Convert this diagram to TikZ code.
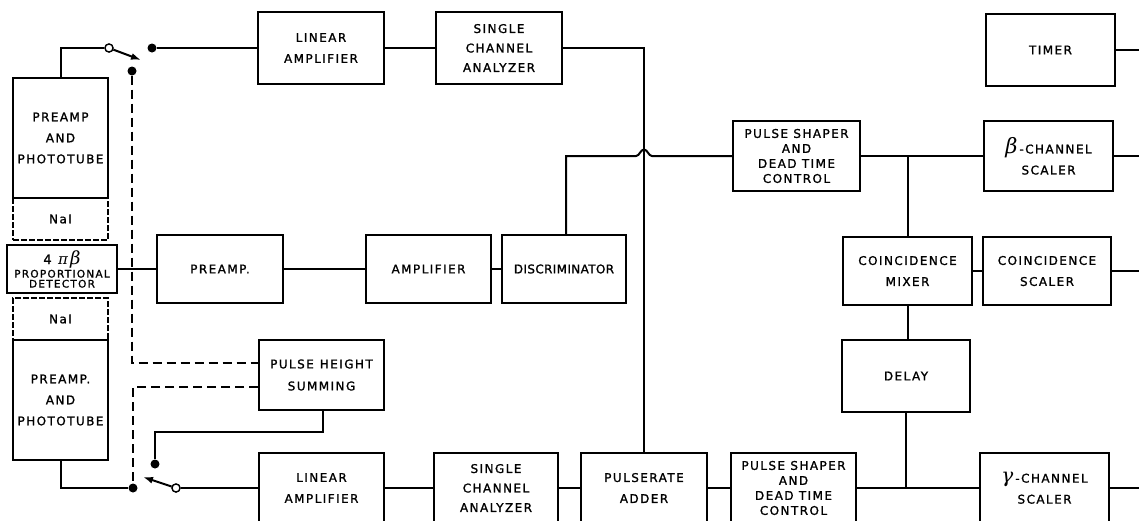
\documentclass[tikz,border=0pt]{standalone}
\usepackage{fontspec}
\newfontfamily\lbl{DejaVu Sans}[LetterSpace=12, FakeBold=1.2]
\newfontfamily\lbltight{DejaVu Sans}[LetterSpace=3, FakeBold=1.2]
\newfontfamily\grk{DejaVu Serif}
\usetikzlibrary{arrows.meta}
\tikzset{
  blk/.style={draw, line width=2pt, inner sep=0pt, align=center,
    font=\lbl\fontsize{12}{21}\selectfont},
  wire/.style={line width=2pt},
  dashwire/.style={line width=1.8pt, dash pattern=on 9pt off 5pt},
  naibox/.style={draw, line width=1.6pt, dash pattern=on 6pt off 2pt, inner sep=0pt,
    font=\lbl\fontsize{12}{21}\selectfont},
  fdot/.style={circle, fill, inner sep=0pt, minimum size=9pt},
  odot/.style={circle, draw, fill=white, line width=1.3pt, inner sep=0pt, minimum size=8pt},
  blade/.style={line width=2pt, -{Latex[length=10pt,width=7pt]}},
}
\newcommand\bigbeta{{\fontsize{21}{21}\grk\itshape β}}
\newcommand\detbeta{{\fontsize{18}{18}\grk\itshape β}}
\newcommand\biggamma{{\fontsize{20}{20}\grk\itshape γ}}
\begin{document}
\begin{tikzpicture}[x=1pt,y=-1pt]
\useasboundingbox (0,0) rectangle (1139,520);
\clip (0,0) rectangle (1139,520);
\fill[white] (0,0) rectangle (1139,520);

% left column
\node[naibox, minimum width=95pt, minimum height=42pt] (nai1) at (60.5,219) {NaI};
\node[naibox, minimum width=95pt, minimum height=42pt] (nai2) at (60.5,319) {NaI};
\node[blk, minimum width=95pt, minimum height=120pt] (pa1) at (60.5,138) {PREAMP\\AND\\PHOTOTUBE};
\node[blk, minimum width=95pt, minimum height=120pt] (pa2) at (60.5,400) {PREAMP.\\AND\\PHOTOTUBE};
\node[blk, minimum width=110pt, minimum height=48pt, font=\lbl\fontsize{10.5}{10}\selectfont] (det) at (62,269)
  {{\fontsize{13}{13}\selectfont 4\enspace{\fontsize{15}{15}\grk\itshape π}\,\detbeta}\\[1pt]PROPORTIONAL\\DETECTOR};

% top row
\node[blk, minimum width=126pt, minimum height=72pt] (lin1) at (321,48) {LINEAR\\AMPLIFIER};
\node[blk, minimum width=126pt, minimum height=72pt, font=\lbl\fontsize{12}{19.5}\selectfont] (sca1) at (499,48) {SINGLE\\CHANNEL\\ANALYZER};
\node[blk, minimum width=129pt, minimum height=72pt] (timer) at (1050.5,50) {TIMER};
\node[blk, minimum width=127pt, minimum height=70pt, font=\lbl\fontsize{12}{15}\selectfont] (ps1) at (796.5,156) {PULSE SHAPER\\AND\\DEAD TIME\\CONTROL};
\node[blk, minimum width=129pt, minimum height=70pt] (beta) at (1048.5,156)
  {\bigbeta\,-CHANNEL\\SCALER};

% middle row
\node[blk, minimum width=126pt, minimum height=68pt] (pre) at (220,269) {PREAMP.};
\node[blk, minimum width=125pt, minimum height=68pt] (amp) at (428.5,269) {AMPLIFIER};
\node[blk, minimum width=124pt, minimum height=68pt, font=\lbltight\fontsize{12}{21}\selectfont] (disc) at (564,269) {DISCRIMINATOR};
\node[blk, minimum width=129pt, minimum height=68pt] (mix) at (907.5,271) {COINCIDENCE\\MIXER};
\node[blk, minimum width=128pt, minimum height=68pt] (csc) at (1047,271) {COINCIDENCE\\SCALER};
\node[blk, minimum width=128pt, minimum height=72pt] (delay) at (906,376) {DELAY};
\node[blk, minimum width=125pt, minimum height=70pt, font=\lbl\fontsize{12}{22}\selectfont] (phs) at (321.5,375) {PULSE\enspace HEIGHT\\SUMMING};

% bottom row
\node[blk, minimum width=125pt, minimum height=70pt] (lin2) at (321.5,488) {LINEAR\\AMPLIFIER};
\node[blk, minimum width=124pt, minimum height=70pt, font=\lbl\fontsize{12}{19.5}\selectfont] (sca2) at (496,488) {SINGLE\\CHANNEL\\ANALYZER};
\node[blk, minimum width=126pt, minimum height=70pt] (add) at (644,488) {PULSERATE\\ADDER};
\node[blk, minimum width=125pt, minimum height=70pt, font=\lbl\fontsize{12}{15}\selectfont] (ps2) at (793.5,488) {PULSE SHAPER\\AND\\DEAD TIME\\CONTROL};
\node[blk, minimum width=129pt, minimum height=70pt] (gam) at (1044.5,488)
  {\biggamma\,-CHANNEL\\SCALER};

% switches and dots
\node[odot] (o1) at (109,48) {};
\node[fdot] (d1) at (152,48) {};
\node[fdot] (d2) at (132,71) {};
\coordinate (t1) at (141,60);
\node[odot] (o2) at (176,488) {};
\node[fdot] (d3) at (133,488) {};
\node[fdot] (d4) at (155,464) {};
\coordinate (t2) at (143,477);
\coordinate (R) at (1139,0);
\coordinate (hA) at (636,156);
\coordinate (hM) at (644,149.5);
\coordinate (hB) at (652,156);

% wires
\draw[wire] (pa1.north) |- (o1.west);
\draw[blade] (o1) -- (t1);
\draw[wire] (d1) -- (d1 -| lin1.west);
\draw[wire] (lin1) -- (sca1);
\draw[wire] (sca1.east) -| (add.north);
\draw[wire] (det.east) -- (pre.west);
\draw[wire] (pre) -- (amp);
\draw[wire] (amp) -- (disc);
\draw[wire] ([xshift=2pt]disc.north) |- (hA) .. controls +(3.5,0) and +(-3.5,0) .. (hM)
   .. controls +(3.5,0) and +(-3.5,0) .. (hB) -- (ps1.west);
\draw[wire] (ps1) -- (beta);
\draw[wire] (mix.north) -- (mix.north |- ps1.east);
\draw[wire] (mix) -- (csc);
\draw[wire] (mix.south) -- (mix.south |- delay.north);
\draw[wire] (delay.south) -- (delay.south |- ps2.west);
\draw[wire] (ps2) -- (gam);
\draw[wire] (lin2) -- (sca2);
\draw[wire] (sca2) -- (add);
\draw[wire] (add) -- (ps2);
\draw[wire] (timer.east) -- (timer.east -| R);
\draw[wire] (beta.east) -- (beta.east -| R);
\draw[wire] (csc.east) -- (csc.east -| R);
\draw[wire] (gam.east) -- (gam.east -| R);
\draw[dashwire] (d2) |- ([yshift=12pt]phs.west);
\draw[dashwire] ([yshift=-12pt]phs.west) -| (d3);
\draw[wire] (pa2.south) |- (d3);
\draw[wire] (o2) -- (lin2.west);
\draw[blade] (o2) -- (t2);
\draw[wire] (d4) |- ([yshift=-21pt,xshift=1.5pt]phs.south) -- ([xshift=1.5pt]phs.south);
\node[odot] at (o1) {};
\node[odot] at (o2) {};
\end{tikzpicture}
\end{document}
